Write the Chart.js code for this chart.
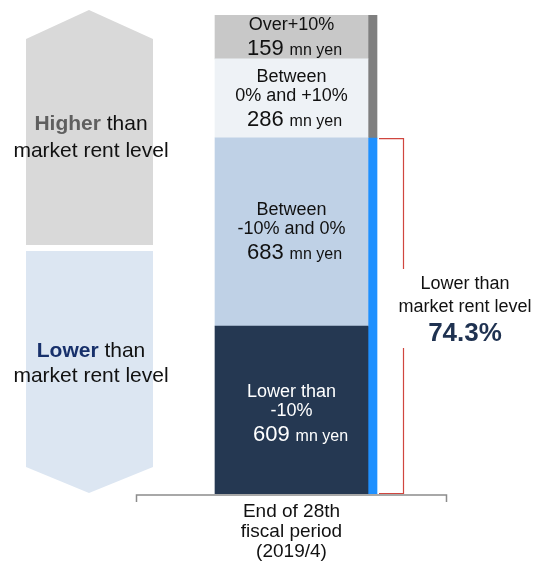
<!DOCTYPE html>
<html>
<head>
<meta charset="utf-8">
<script src="https://cdn.jsdelivr.net/npm/chart.js@4.4.0/dist/chart.umd.min.js"></script>
<style>
  body { margin: 0; background: #fff; }
  canvas { display: block; }
</style>
</head>
<body>
<canvas id="rentChart" width="535" height="561"></canvas>
<script>
var period = ["End of 28th", "fiscal period", "(2019/4)"];
// rent gap bands, bottom to top
var bands = ["Lower than -10%", "Between -10% and 0%", "Between 0% and +10%", "Over+10%"];
var bandLines = [["Lower than", "-10%"], ["Between", "-10% and 0%"], ["Between", "0% and +10%"], ["Over+10%"]];
var rentGap = [609, 683, 286, 159]; // mn yen
var bandColors = ["#253852", "#bfd1e6", "#eef2f6", "#c8c8c8"];
var bandText = ["#ffffff", "#111111", "#111111", "#111111"];
var lowerShare = 74.3; // % of rent below market level

var FONT = '"Liberation Sans", Arial, sans-serif';
var total = rentGap.reduce(function (a, b) { return a + b; }, 0);

var datasets = bands.map(function (b, i) {
  return {
    label: b,
    data: [rentGap[i]],
    backgroundColor: bandColors[i],
    stack: "amount",
    yAxisID: "y",
    barThickness: 153
  };
});
datasets.push({
  label: "Lower than market",
  data: [lowerShare],
  backgroundColor: "#1e90ff",
  stack: "share",
  yAxisID: "y2",
  barThickness: 9
});
datasets.push({
  label: "Higher than market",
  data: [100 - lowerShare],
  backgroundColor: "#7f7f7f",
  stack: "share",
  yAxisID: "y2",
  barThickness: 9
});

function font(size, bold) {
  return (bold ? "bold " : "") + size + "px " + FONT;
}

// two-part line: bold word + regular rest, centred on cx
function mixedLine(ctx, boldPart, rest, cx, y, size, boldColor) {
  ctx.font = font(size, true);
  var w1 = ctx.measureText(boldPart).width;
  ctx.font = font(size, false);
  var w2 = ctx.measureText(rest).width;
  var x = cx - (w1 + w2) / 2;
  ctx.textAlign = "left";
  ctx.font = font(size, true);
  ctx.fillStyle = boldColor;
  ctx.fillText(boldPart, x, y);
  ctx.font = font(size, false);
  ctx.fillStyle = "#111";
  ctx.fillText(rest, x + w1, y);
}

var decorations = {
  id: "decorations",
  beforeDatasetsDraw: function (chart) {
    var ctx = chart.ctx;
    ctx.save();
    // up / down arrows on the left
    ctx.fillStyle = "#d9d9d9";
    ctx.beginPath();
    ctx.moveTo(26, 245); ctx.lineTo(26, 39); ctx.lineTo(89, 10);
    ctx.lineTo(153, 39); ctx.lineTo(153, 245); ctx.closePath();
    ctx.fill();
    ctx.fillStyle = "#dce6f2";
    ctx.beginPath();
    ctx.moveTo(26, 251); ctx.lineTo(153, 251); ctx.lineTo(153, 467);
    ctx.lineTo(89, 493); ctx.lineTo(26, 467); ctx.closePath();
    ctx.fill();

    ctx.textBaseline = "alphabetic";
    mixedLine(ctx, "Higher", " than", 91, 130, 21, "#5f5f5f");
    ctx.textAlign = "center";
    ctx.fillText("market rent level", 91, 156.5);
    mixedLine(ctx, "Lower", " than", 91, 356.5, 21, "#17306b");
    ctx.textAlign = "center";
    ctx.fillText("market rent level", 91, 381.5);

    // period bracket under the bar
    var bar = chart.getDatasetMeta(0).data[0];
    var yb = chart.scales.y.getPixelForValue(0) + 1;
    ctx.strokeStyle = "#8c8c8c";
    ctx.lineWidth = 1.5;
    ctx.beginPath();
    ctx.moveTo(bar.x - 155, yb + 7); ctx.lineTo(bar.x - 155, yb);
    ctx.lineTo(bar.x + 155, yb); ctx.lineTo(bar.x + 155, yb + 7);
    ctx.stroke();
    ctx.fillStyle = "#111";
    ctx.font = font(19, false);
    ctx.textAlign = "center";
    period.forEach(function (line, i) {
      ctx.fillText(line, bar.x, 517 + i * 20);
    });
    ctx.restore();
  },
  afterDatasetsDraw: function (chart) {
    var ctx = chart.ctx;
    ctx.save();
    ctx.textBaseline = "alphabetic";
    // band labels inside the stacked bar
    bands.forEach(function (b, i) {
      var el = chart.getDatasetMeta(i).data[0];
      var cy = (el.y + el.base) / 2;
      var lines = bandLines[i];
      var blockH = (lines.length - 1) * 19 + 24;
      var y0 = cy - blockH / 2 + (i === 0 ? 8 : 5);
      ctx.fillStyle = bandText[i];
      ctx.textAlign = "center";
      ctx.font = font(18, false);
      lines.forEach(function (line, k) {
        ctx.fillText(line, el.x, y0 + k * 19);
      });
      var yNum = y0 + (lines.length - 1) * 19 + 25;
      var num = String(rentGap[i]);
      ctx.font = font(22, false);
      var wn = ctx.measureText(num).width;
      ctx.font = font(16, false);
      var wu = ctx.measureText("mn yen").width;
      var x0 = el.x + (i === 0 ? 9 : 3) - (wn + 6 + wu) / 2;
      ctx.textAlign = "left";
      ctx.font = font(22, false);
      ctx.fillText(num, x0, yNum);
      ctx.font = font(16, false);
      ctx.fillText("mn yen", x0 + wn + 6, yNum);
    });

    // bracket for the below-market share
    var low = chart.getDatasetMeta(4).data[0];
    var xa = low.x + low.width / 2 + 2;
    var xb = xa + 24;
    ctx.strokeStyle = "#d0463f";
    ctx.lineWidth = 1.2;
    ctx.beginPath();
    ctx.moveTo(xa, low.y + 0.5); ctx.lineTo(xb + 0.5, low.y + 0.5); ctx.lineTo(xb + 0.5, 269);
    ctx.moveTo(xb + 0.5, 348); ctx.lineTo(xb + 0.5, low.base - 0.5); ctx.lineTo(xa, low.base - 0.5);
    ctx.stroke();
    ctx.textAlign = "center";
    ctx.fillStyle = "#111";
    ctx.font = font(18, false);
    ctx.fillText("Lower than", 465, 289);
    ctx.fillText("market rent level", 465, 311.5);
    ctx.fillStyle = "#1f3251";
    ctx.font = font(26, true);
    ctx.fillText(lowerShare.toFixed(1) + "%", 465, 340.5);
    ctx.restore();
  }
};

new Chart(document.getElementById("rentChart").getContext("2d"), {
  type: "bar",
  data: {
    labels: [period],
    datasets: datasets
  },
  options: {
    responsive: false,
    animation: false,
    layout: { padding: { left: 201, right: 0, top: 15, bottom: 67 } },
    scales: {
      x: { display: false },
      y: { display: false, stacked: true, min: 0, max: total },
      y2: { display: false, stacked: true, min: 0, max: 100 }
    },
    plugins: {
      legend: { display: false },
      tooltip: { enabled: false }
    }
  },
  plugins: [decorations]
});
</script>
</body>
</html>
